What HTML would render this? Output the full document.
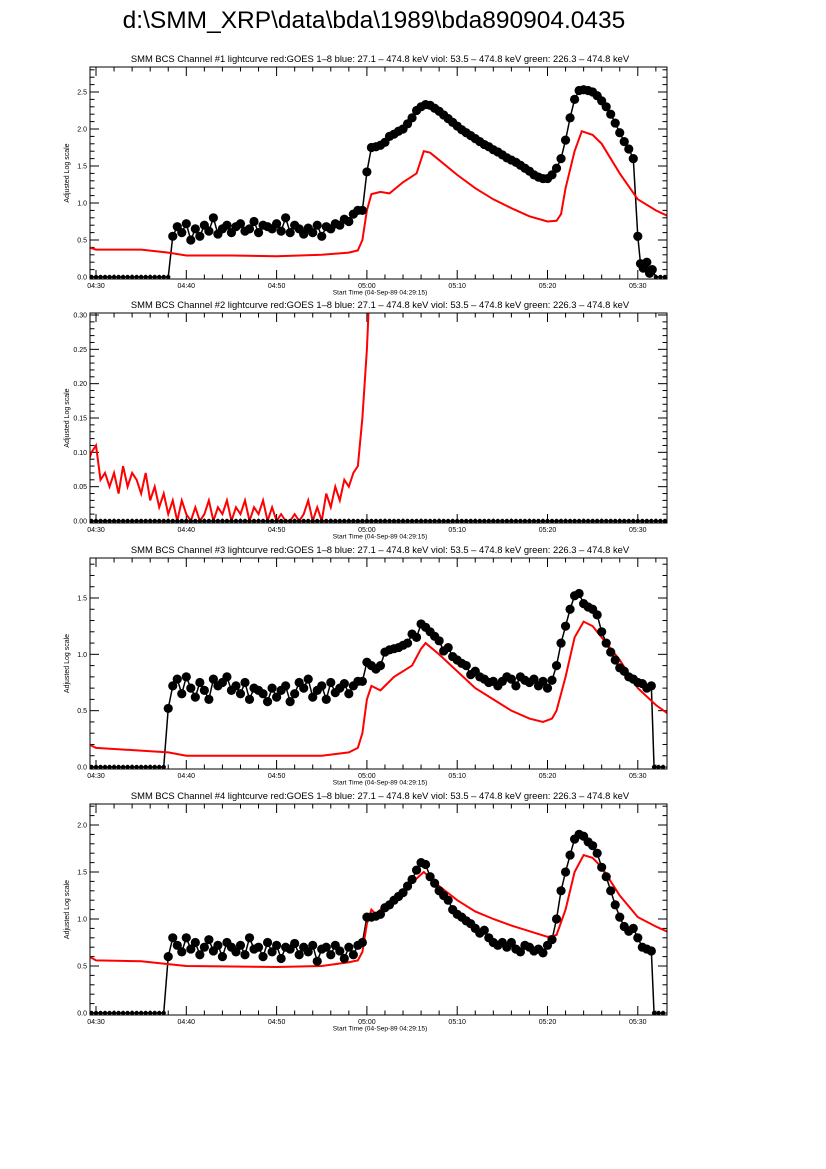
<!DOCTYPE html>
<html><head><meta charset="utf-8">
<style>
html,body{margin:0;padding:0;background:#fff;}
svg{display:block;font-family:"Liberation Sans",sans-serif;}
</style></head>
<body>
<svg id="chart" width="826" height="1169" viewBox="0 0 826 1169">
<rect x="0" y="0" width="826" height="1169" fill="#fff"/>
<text x="374" y="28" font-size="24.5" text-anchor="middle">d:\SMM_XRP\data\bda\1989\bda890904.0435</text>
</svg>
<script>
// ---- shared data ----
const xTickLabels = ["04:30","04:40","04:50","05:00","05:10","05:20","05:30"];
const xTickMinutes = [0,10,20,30,40,50,60];
const panelTitles = [
 "SMM BCS Channel #1 lightcurve  red:GOES 1\u20138  blue: 27.1 \u2013 474.8 keV  viol: 53.5 \u2013 474.8 keV  green: 226.3 \u2013 474.8 keV",
 "SMM BCS Channel #2 lightcurve  red:GOES 1\u20138  blue: 27.1 \u2013 474.8 keV  viol: 53.5 \u2013 474.8 keV  green: 226.3 \u2013 474.8 keV",
 "SMM BCS Channel #3 lightcurve  red:GOES 1\u20138  blue: 27.1 \u2013 474.8 keV  viol: 53.5 \u2013 474.8 keV  green: 226.3 \u2013 474.8 keV",
 "SMM BCS Channel #4 lightcurve  red:GOES 1\u20138  blue: 27.1 \u2013 474.8 keV  viol: 53.5 \u2013 474.8 keV  green: 226.3 \u2013 474.8 keV"];
const p1YTicks = ["0.0","0.5","1.0","1.5","2.0","2.5"];
const p2YTicks = ["0.00","0.05","0.10","0.15","0.20","0.25","0.30"];
const p3YTicks = ["0.0","0.5","1.0","1.5"];
const p4YTicks = ["0.0","0.5","1.0","1.5","2.0"];

// ---- panel 1 ----
const p1RedT = [-0.75,0,5,8,10,15,20,25,28,29,29.5,30,30.5,31.5,32.5,34,35.5,36.3,37,38,40,42,44,46,48,50,51,51.5,52,53,53.8,55,56,58,60,62,63.4];
const p1RedV = [0.40,0.37,0.37,0.33,0.29,0.29,0.28,0.30,0.33,0.36,0.50,0.90,1.12,1.15,1.13,1.28,1.40,1.70,1.68,1.58,1.38,1.20,1.05,0.93,0.82,0.75,0.76,0.85,1.20,1.70,1.97,1.92,1.80,1.40,1.05,0.90,0.82];
const p1BlkT = [-0.5,0,0.5,1,1.5,2,2.5,3,3.5,4,4.5,5,5.5,6,6.5,7,7.5,8,8.5,
 9,9.5,10,10.5,11,11.5,12,12.5,13,13.5,14,14.5,15,15.5,16,16.5,17,17.5,18,18.5,19,19.5,20,20.5,21,21.5,22,22.5,23,23.5,24,24.5,25,25.5,26,26.5,27,27.5,28,28.5,
 29,29.5,30,30.5,31,31.5,32,32.5,33,33.5,34,34.5,35,35.5,36,36.5,37,37.5,38,38.5,39,39.5,40,40.5,41,41.5,42,42.5,43,43.5,44,44.5,45,45.5,46,46.5,47,47.5,48,48.5,49,49.5,50,50.5,51,51.5,52,52.5,53,53.5,54,54.5,55,55.5,56,56.5,57,57.5,58,58.5,59,59.5,
 60,60.3,60.6,61,61.3,61.6,62,62.5,63];
const p1BlkV = [0,0,0,0,0,0,0,0,0,0,0,0,0,0,0,0,0,0,0.55,
 0.68,0.6,0.72,0.5,0.65,0.55,0.7,0.62,0.8,0.58,0.65,0.7,0.6,0.68,0.72,0.62,0.65,0.75,0.6,0.7,0.68,0.65,0.72,0.62,0.8,0.6,0.7,0.65,0.58,0.66,0.6,0.7,0.55,0.68,0.65,0.72,0.7,0.78,0.75,0.85,
 0.9,0.9,1.42,1.75,1.76,1.78,1.82,1.9,1.93,1.97,2.0,2.07,2.15,2.25,2.3,2.33,2.32,2.28,2.24,2.19,2.14,2.09,2.04,1.99,1.95,1.91,1.87,1.83,1.79,1.76,1.72,1.69,1.65,1.61,1.58,1.55,1.51,1.47,1.43,1.38,1.35,1.33,1.33,1.38,1.47,1.6,1.85,2.15,2.4,2.52,2.53,2.52,2.5,2.45,2.38,2.3,2.2,2.08,1.95,1.83,1.73,1.6,
 0.55,0.18,0.12,0.2,0.05,0.1,0,0,0];

// ---- panel 2 ----
const p2RedT = [-0.75,-0.5,0,0.5,1,1.5,2,2.5,3,3.5,4,4.5,5,5.5,6,6.5,7,7.5,8,8.5,9,9.5,10,10.5,11,11.5,12,12.5,13,13.5,14,14.5,15,15.5,16,16.5,17,17.5,18,18.5,19,19.5,20,20.5,21,21.5,22,22.5,23,23.5,24,24.5,25,25.5,26,26.5,27,27.5,28,28.5,29,29.5,30,30.5,31];
const p2RedV = [0.09,0.10,0.11,0.06,0.07,0.05,0.07,0.04,0.08,0.05,0.07,0.06,0.04,0.07,0.03,0.05,0.02,0.04,0.01,0.03,0.00,0.03,0.01,0.00,0.02,0.00,0.01,0.03,0.00,0.02,0.01,0.03,0.00,0.02,0.01,0.03,0.00,0.02,0.01,0.03,0.00,0.02,0.00,0.01,0.00,0.00,0.01,0.00,0.01,0.03,0.00,0.02,0.00,0.04,0.02,0.05,0.03,0.06,0.05,0.07,0.08,0.15,0.25,0.40,0.60];
const p2BlkT = [-0.5,0,0.5,1,1.5,2,2.5,3,3.5,4,4.5,5,5.5,6,6.5,7,7.5,8,8.5,9,9.5,10,10.5,11,11.5,12,12.5,13,13.5,14,14.5,15,15.5,16,16.5,17,17.5,18,18.5,19,19.5,20,20.5,21,21.5,22,22.5,23,23.5,24,24.5,25,25.5,26,26.5,27,27.5,28,28.5,29,29.5,30,30.5,31,31.5,32,32.5,33,33.5,34,34.5,35,35.5,36,36.5,37,37.5,38,38.5,39,39.5,40,40.5,41,41.5,42,42.5,43,43.5,44,44.5,45,45.5,46,46.5,47,47.5,48,48.5,49,49.5,50,50.5,51,51.5,52,52.5,53,53.5,54,54.5,55,55.5,56,56.5,57,57.5,58,58.5,59,59.5,60,60.5,61,61.5,62,62.5,63];
const p2BlkV = p2BlkT.map(() => 0);

// ---- panel 3 ----
const p3RedT = [-0.75,0,8,10,20,25,28,29,29.5,30,30.5,31.5,33,35,36,36.5,38,40,42,44,46,48,49.5,50.5,51,52,53,54,55,56,58,60,62,63.4];
const p3RedV = [0.20,0.17,0.13,0.10,0.10,0.10,0.13,0.17,0.30,0.60,0.72,0.68,0.80,0.90,1.05,1.10,1.00,0.85,0.70,0.60,0.50,0.43,0.40,0.43,0.50,0.80,1.15,1.29,1.25,1.15,0.95,0.70,0.55,0.47];
const p3BlkT = [-0.5,0,0.5,1,1.5,2,2.5,3,3.5,4,4.5,5,5.5,6,6.5,7,7.5,8,8.5,
 9,9.5,10,10.5,11,11.5,12,12.5,13,13.5,14,14.5,15,15.5,16,16.5,17,17.5,18,18.5,19,19.5,20,20.5,21,21.5,22,22.5,23,23.5,24,24.5,25,25.5,26,26.5,27,27.5,28,28.5,29,
 29.5,30,30.5,31,31.5,32,32.5,33,33.5,34,34.5,35,35.5,36,36.5,37,37.5,38,38.5,39,39.5,40,40.5,41,41.5,42,42.5,43,43.5,44,44.5,45,45.5,46,46.5,47,47.5,48,48.5,49,49.5,50,50.5,51,51.5,52,52.5,53,53.5,54,54.5,55,55.5,56,56.5,57,57.5,58,58.5,59,59.5,60,60.5,61,61.5,
 61.8,62.3,62.8];
const p3BlkV = [0,0,0,0,0,0,0,0,0,0,0,0,0,0,0,0,0,0.52,0.72,
 0.78,0.65,0.8,0.7,0.62,0.75,0.68,0.6,0.78,0.72,0.75,0.8,0.68,0.72,0.65,0.75,0.6,0.7,0.68,0.65,0.58,0.7,0.62,0.68,0.72,0.58,0.65,0.75,0.7,0.78,0.62,0.68,0.72,0.6,0.75,0.66,0.7,0.74,0.65,0.72,0.76,
 0.76,0.93,0.9,0.87,0.9,1.02,1.04,1.05,1.06,1.08,1.1,1.18,1.15,1.27,1.24,1.2,1.16,1.12,1.03,1.06,0.98,0.95,0.92,0.9,0.82,0.85,0.8,0.78,0.75,0.76,0.72,0.76,0.8,0.78,0.72,0.8,0.77,0.75,0.78,0.72,0.76,0.7,0.77,0.9,1.1,1.25,1.4,1.52,1.54,1.45,1.42,1.4,1.35,1.2,1.1,1.02,0.95,0.88,0.85,0.8,0.78,0.75,0.74,0.7,0.72,
 0,0,0];

// ---- panel 4 ----
const p4RedT = [-0.75,0,5,8,10,20,25,28,29,29.5,30,30.5,31,32,34,36.3,38,40,42,44,46,48,50,51,52,53,54,55,56,58,60,62,63.4];
const p4RedV = [0.60,0.56,0.55,0.52,0.50,0.49,0.50,0.54,0.56,0.65,0.95,1.10,1.05,1.15,1.30,1.50,1.35,1.20,1.08,1.00,0.93,0.87,0.81,0.83,1.10,1.50,1.68,1.65,1.55,1.25,1.02,0.92,0.86];
const p4BlkT = p3BlkT.slice();
const p4BlkV = [0,0,0,0,0,0,0,0,0,0,0,0,0,0,0,0,0,0.6,0.8,
 0.72,0.65,0.8,0.68,0.75,0.62,0.7,0.78,0.66,0.72,0.6,0.75,0.7,0.65,0.72,0.62,0.8,0.68,0.7,0.6,0.75,0.65,0.72,0.58,0.7,0.68,0.74,0.62,0.7,0.65,0.72,0.55,0.68,0.7,0.62,0.72,0.66,0.58,0.7,0.62,0.72,
 0.75,1.02,1.02,1.03,1.05,1.12,1.15,1.2,1.24,1.28,1.35,1.42,1.52,1.6,1.58,1.45,1.38,1.3,1.25,1.2,1.1,1.05,1.02,0.98,0.95,0.9,0.85,0.88,0.8,0.75,0.72,0.75,0.7,0.75,0.68,0.65,0.72,0.7,0.66,0.68,0.64,0.72,0.78,1.0,1.3,1.5,1.68,1.85,1.9,1.88,1.82,1.78,1.7,1.55,1.45,1.3,1.15,1.02,0.92,0.87,0.9,0.8,0.7,0.68,0.66,
 0,0,0];

// ---- drawing ----
const NS = "http://www.w3.org/2000/svg";
const svg = document.getElementById("chart");
const X0 = 96, PXMIN = 9.03, LEFT = 90, RIGHT = 667;
function xs(t){ return X0 + PXMIN*t; }
function mk(tag, attrs, parent){
  const e = document.createElementNS(NS, tag);
  for (const k in attrs) e.setAttribute(k, attrs[k]);
  (parent||svg).appendChild(e); return e;
}
const panels = [
 {top:67, y0:277, vmax:2.5, vtop:92, major:0.5, minor:0.1, yt:p1YTicks, rT:p1RedT, rV:p1RedV, bT:p1BlkT, bV:p1BlkV},
 {top:313, y0:521, vmax:0.30, vtop:315, major:0.05, minor:0.01, yt:p2YTicks, rT:p2RedT, rV:p2RedV, bT:p2BlkT, bV:p2BlkV},
 {top:558, y0:767, vmax:1.5, vtop:598, major:0.5, minor:0.1, yt:p3YTicks, rT:p3RedT, rV:p3RedV, bT:p3BlkT, bV:p3BlkV},
 {top:804, y0:1013, vmax:2.0, vtop:825, major:0.5, minor:0.1, yt:p4YTicks, rT:p4RedT, rV:p4RedV, bT:p4BlkT, bV:p4BlkV}
];
panels.forEach((p, i) => {
  const bottom = p.y0 + 2;
  const sc = (p.y0 - p.vtop) / p.vmax;
  const ys = v => p.y0 - v*sc;
  const g = mk("g", {});
  
  
  const cp = mk("clipPath", {id:"clip"+i}, g);
  mk("rect", {x:LEFT, y:p.top, width:RIGHT-LEFT, height:bottom-p.top}, cp);
  const ttl = mk("text", {x:380, y:p.top-5, "font-size":"9.4", "text-anchor":"middle"}, g);
  ttl.textContent = panelTitles[i];
  
  
  const nMin = Math.round((p.y0 - p.top)/sc / p.minor);
  for (let k=0; k<=nMin; k++){
    const v = k*p.minor; const y = ys(v);
    if (y < p.top) break;
    const isMaj = Math.abs(v/p.major - Math.round(v/p.major)) < 1e-6;
    const L = isMaj ? 9 : 4.5;
    mk("line", {x1:LEFT, x2:LEFT+L, y1:y, y2:y, stroke:"#000", "stroke-width":1}, g);
    mk("line", {x1:RIGHT-L, x2:RIGHT, y1:y, y2:y, stroke:"#000", "stroke-width":1}, g);
  }
  p.yt.forEach((lab, k) => {
    const t = mk("text", {x:LEFT-3, y:ys(k*p.major)+2.5, "font-size":"7", "text-anchor":"end"}, g);
    t.textContent = lab;
    
    
  });
  for (let m=0; m<=62; m+=2){
    const x = xs(m); const isMaj = m%10===0; const L = isMaj?9:4.5;
    mk("line", {x1:x, x2:x, y1:bottom, y2:bottom-L, stroke:"#000", "stroke-width":1}, g);
    mk("line", {x1:x, x2:x, y1:p.top, y2:p.top+L, stroke:"#000", "stroke-width":1}, g);
  }
  xTickLabels.forEach((lab, k) => {
    const t = mk("text", {x:xs(xTickMinutes[k]), y:bottom+9, "font-size":"7", "text-anchor":"middle"}, g);
    t.textContent = lab;
    
    
  });
  const xt = mk("text", {x:380, y:bottom+15.5, "font-size":"6.6", "text-anchor":"middle"}, g);
  xt.textContent = "Start Time (04-Sep-89 04:29:15)";
  
  
  const yt = mk("text", {x:0, y:0, "font-size":"7", "text-anchor":"middle", transform:"translate(69,"+((p.top+bottom)/2)+") rotate(-90)"}, g);
  yt.textContent = "Adjusted Log scale";
  
  
  const dg = mk("g", {"clip-path":"url(#clip"+i+")"}, g);
  const bl = mk("polyline", {points:p.bT.map((t,k)=>xs(t)+","+ys(p.bV[k])).join(" "), fill:"none", stroke:"#000", "stroke-width":1.5}, dg);
  
  
  const rl = mk("polyline", {points:p.rT.map((t,k)=>xs(t)+","+ys(p.rV[k])).join(" "), fill:"none", stroke:"#f00", "stroke-width":2}, dg);
  
  
  p.bT.forEach((t,k) => {
    const v = p.bV[k];
    const c = mk("circle", {cx:xs(t), cy:ys(v), r: v===0 ? 2.2 : 4.6, fill:"#000"}, dg);
    
    
  });
  const fr = mk("rect", {x:LEFT, y:p.top, width:RIGHT-LEFT, height:bottom-p.top, fill:"none", stroke:"#000", "stroke-width":1}, g);
  
  
});
</script>
</body></html>
